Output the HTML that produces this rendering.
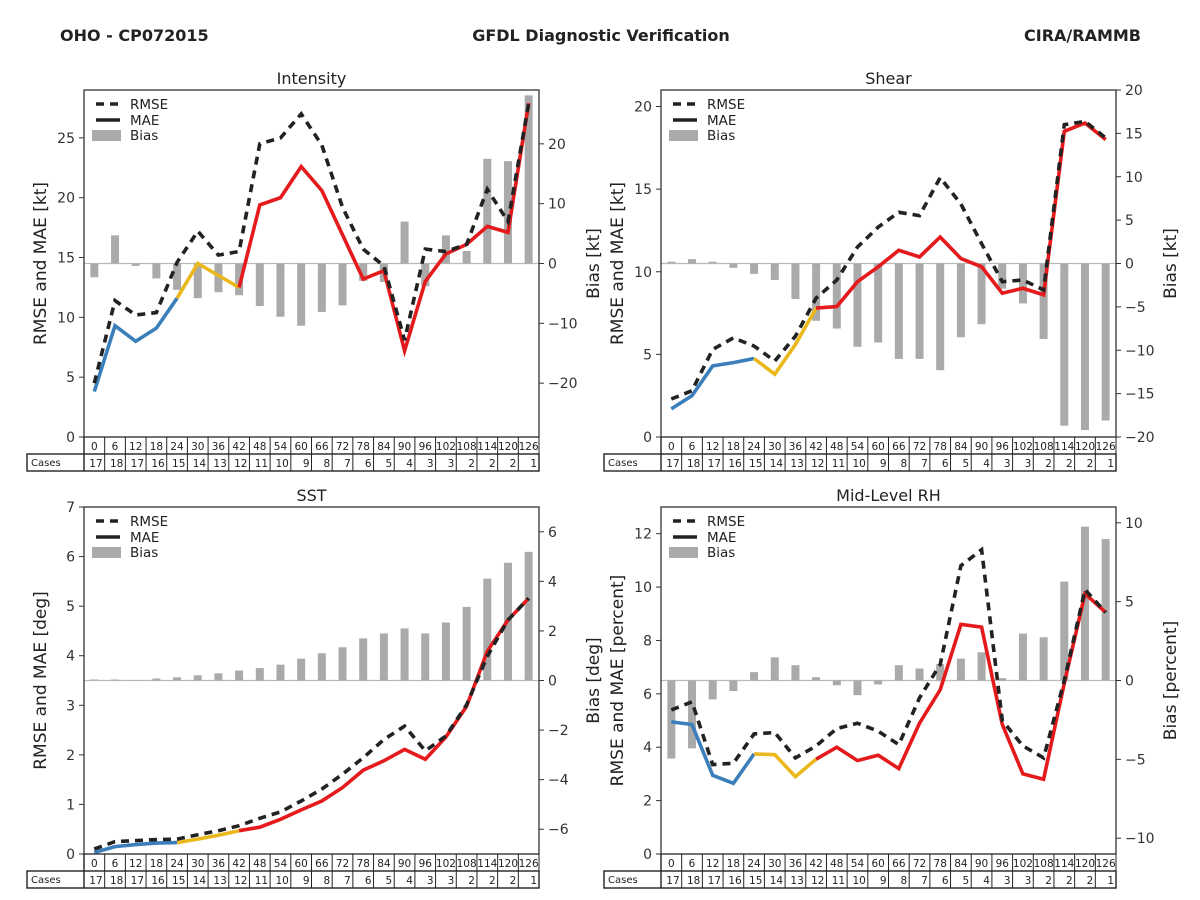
<!DOCTYPE html>
<html><head><meta charset="utf-8">
<style>
html,body{margin:0;padding:0;background:#fff;}
svg{display:block;font-family:"DejaVu Sans","Liberation Sans",sans-serif;}
</style></head>
<body>
<svg id="chart" width="1200" height="900" viewBox="0 0 1200 900" xmlns="http://www.w3.org/2000/svg">
<text x="60" y="41" font-size="16" font-weight="bold" fill="#222">OHO - CP072015</text>
<text x="601" y="41" font-size="16" font-weight="bold" fill="#222" text-anchor="middle">GFDL Diagnostic Verification</text>
<text x="1141" y="41" font-size="16" font-weight="bold" fill="#222" text-anchor="end">CIRA/RAMMB</text>
</svg>
<script>
const hours = [0,6,12,18,24,30,36,42,48,54,60,66,72,78,84,90,96,102,108,114,120,126];
const cases = [17,18,17,16,15,14,13,12,11,10,9,8,7,6,5,4,3,3,2,2,2,1];

const intRmse = [4.5,11.4,10.2,10.4,14.6,17.2,15.2,15.5,24.5,25.0,27.0,24.4,19.2,15.7,14.3,8.1,15.7,15.5,16.1,20.7,18.0,27.9];
const intMae  = [3.8,9.3,8.0,9.1,11.6,14.5,13.5,12.5,19.4,20.0,22.6,20.6,16.9,13.2,13.9,7.2,13.0,15.3,16.1,17.6,17.1,27.9];
const intBias = [-2.3,4.7,-0.4,-2.5,-4.4,-5.8,-4.8,-5.3,-7.1,-8.9,-10.4,-8.1,-7.0,-2.9,-3.1,7.0,-3.8,4.7,2.1,17.5,17.1,28.1];

const shrRmse = [2.3,2.8,5.3,6.0,5.5,4.6,6.1,8.4,9.5,11.5,12.7,13.6,13.4,15.7,14.1,11.7,9.4,9.5,8.9,18.9,19.1,18.1];
const shrMae  = [1.7,2.5,4.3,4.5,4.75,3.8,5.6,7.8,7.9,9.4,10.3,11.3,10.9,12.1,10.8,10.3,8.7,9.0,8.6,18.5,19.0,18.0];
const shrBias = [0.2,0.5,0.2,-0.5,-1.2,-1.9,-4.1,-6.6,-7.5,-9.6,-9.1,-11.0,-11.0,-12.3,-8.5,-7.0,-2.9,-4.6,-8.7,-18.7,-19.2,-18.1];

const sstRmse = [0.1,0.25,0.27,0.29,0.3,0.39,0.47,0.57,0.72,0.85,1.07,1.31,1.61,1.94,2.31,2.58,2.08,2.38,3.01,3.99,4.72,5.16];
const sstMae  = [0.03,0.15,0.19,0.22,0.23,0.3,0.38,0.47,0.54,0.7,0.89,1.07,1.34,1.69,1.88,2.11,1.91,2.36,2.98,4.09,4.72,5.16];
const sstBias = [0.04,0.04,0.01,0.08,0.13,0.21,0.29,0.4,0.5,0.64,0.88,1.1,1.34,1.7,1.9,2.1,1.9,2.34,2.97,4.11,4.75,5.19];

const rhRmse = [5.4,5.7,3.35,3.4,4.5,4.55,3.6,4.05,4.7,4.9,4.6,4.1,5.85,7.1,10.8,11.4,5.0,4.05,3.6,6.5,9.9,9.05];
const rhMae  = [4.95,4.85,2.95,2.65,3.75,3.72,2.9,3.55,4.0,3.5,3.7,3.2,4.9,6.15,8.6,8.5,4.85,3.0,2.8,6.4,9.75,9.05];
const rhBias = [-4.95,-4.3,-1.2,-0.67,0.53,1.47,0.97,0.21,-0.3,-0.93,-0.25,0.97,0.76,1.05,1.39,1.79,0.15,2.97,2.74,6.27,9.75,8.97];

const intLeftTicks = [0,5,10,15,20,25];
const intRightTicks = [-20,-10,0,10,20];
const shrLeftTicks = [0,5,10,15,20];
const shrRightTicks = [-20,-15,-10,-5,0,5,10,15,20];
const sstLeftTicks = [0,1,2,3,4,5,6,7];
const sstRightTicks = [-6,-4,-2,0,2,4,6];
const rhLeftTicks = [0,2,4,6,8,10,12];
const rhRightTicks = [-10,-5,0,5,10];

const NS = "http://www.w3.org/2000/svg";
const svg = document.getElementById('chart');
function mk(tag, attrs, parent, text){
  const e = document.createElementNS(NS, tag);
  for (const k in attrs) e.setAttribute(k, attrs[k]);
  if (text !== undefined) e.textContent = text;
  (parent || svg).appendChild(e);
  return e;
}
function fmt(v){ return v < 0 ? '\u2212' + Math.abs(v) : String(v); }

function panel(cfg){
  const L = cfg.L, R = cfg.R, T = cfg.T, B = cfg.B;
  const g = mk('g', {});
  
  
  const cw = (R - L) / hours.length;
  const xs = i => L + cw * (i + 0.5);
  const yl = v => B - (v - cfg.lmin) / (cfg.lmax - cfg.lmin) * (B - T);
  const yr = v => B - (v - cfg.rmin) / (cfg.rmax - cfg.rmin) * (B - T);

  const title = mk('text', {x:(L+R)/2, y:T-6, 'font-size':16, 'text-anchor':'middle', fill:'#222'}, g, cfg.title);
  
  

  // zero line
  const zl = mk('line', {x1:L, x2:R, y1:yr(0), y2:yr(0), stroke:'#bbb', 'stroke-width':1.2}, g);
  
  

  // bars
  cfg.bias.forEach((v, i) => {
    const y0 = yr(0), y1 = yr(v);
    const r = mk('rect', {x:xs(i)-4, y:Math.min(y0,y1), width:8, height:Math.max(0.5,Math.abs(y1-y0)), fill:'#aaa'}, g);
    
    
  });

  // MAE segments
  const segs = [[0,4,'#3a7fba'],[4,7,'#ebb81c'],[7,hours.length-1,'#e41a1c']];
  segs.forEach(s => {
    let d = '';
    for (let i = s[0]; i <= s[1]; i++) d += (i===s[0]?'M':'L') + xs(i).toFixed(1) + ',' + yl(cfg.mae[i]).toFixed(1);
    const p = mk('path', {d:d, fill:'none', stroke:s[2], 'stroke-width':3.6, 'stroke-linejoin':'miter'}, g);
    
    
  });
  // RMSE
  let d = '';
  cfg.rmse.forEach((v,i) => { d += (i?'L':'M') + xs(i).toFixed(1) + ',' + yl(v).toFixed(1); });
  const rp = mk('path', {d:d, fill:'none', stroke:'#222', 'stroke-width':3.6, 'stroke-dasharray':'8,6'}, g);
  
  

  // frame
  const fr = mk('rect', {x:L, y:T, width:R-L, height:B-T, fill:'none', stroke:'#333', 'stroke-width':1.3}, g);
  
  

  // left ticks
  cfg.lticks.forEach(v => {
    mk('line', {x1:L-5, x2:L, y1:yl(v), y2:yl(v), stroke:'#333', 'stroke-width':1}, g);
    const t = mk('text', {x:L-9, y:yl(v)+5, 'font-size':14, 'text-anchor':'end', fill:'#333'}, g, fmt(v));
    
    
  });
  cfg.rticks.forEach(v => {
    mk('line', {x1:R, x2:R+5, y1:yr(v), y2:yr(v), stroke:'#333', 'stroke-width':1}, g);
    const t = mk('text', {x:R+9, y:yr(v)+5, 'font-size':14, 'text-anchor':'start', fill:'#333'}, g, fmt(v));
    
    
  });
  const cy = (T+B)/2;
  const la = mk('text', {x:0, y:0, transform:'translate('+(L-38)+','+cy+') rotate(-90)', 'font-size':17, 'text-anchor':'middle', fill:'#222'}, g, cfg.ylab);
  
  
  const ra = mk('text', {x:0, y:0, transform:'translate('+(R+60)+','+cy+') rotate(-90)', 'font-size':17, 'text-anchor':'middle', fill:'#222'}, g, cfg.rlab);
  
  

  // legend
  const lx = L + 12, ly = T + 14;
  const lg = mk('g', {}, g);
  
  
  mk('line', {x1:lx, x2:lx+24, y1:ly, y2:ly, stroke:'#222', 'stroke-width':3.6, 'stroke-dasharray':'8,6'}, lg);
  mk('text', {x:lx+34, y:ly+5, 'font-size':13.5, fill:'#222'}, lg, 'RMSE');
  mk('line', {x1:lx, x2:lx+24, y1:ly+16, y2:ly+16, stroke:'#222', 'stroke-width':3.6}, lg);
  mk('text', {x:lx+34, y:ly+21, 'font-size':13.5, fill:'#222'}, lg, 'MAE');
  mk('rect', {x:lx-4, y:ly+26, width:29, height:11, fill:'#aaa'}, lg);
  mk('text', {x:lx+34, y:ly+36, 'font-size':13.5, fill:'#222'}, lg, 'Bias');

  // table
  const tb = mk('g', {}, g);
  
  
  const r1 = B, r2 = B + 17, r3 = B + 34;
  mk('rect', {x:L, y:r1, width:R-L, height:17, fill:'none', stroke:'#222', 'stroke-width':1}, tb);
  mk('rect', {x:L-57, y:r2, width:R-L+57, height:17, fill:'none', stroke:'#222', 'stroke-width':1.4}, tb);
  mk('line', {x1:L, x2:L, y1:r1, y2:r3, stroke:'#222', 'stroke-width':1.4}, tb);
  hours.forEach((h,i) => {
    const cx = L + cw*i;
    if (i>0) mk('line', {x1:cx, x2:cx, y1:r1, y2:r3, stroke:'#222', 'stroke-width':1}, tb);
    mk('text', {x:cx+cw/2, y:r1+13, 'font-size':10.5, 'text-anchor':'middle', fill:'#222'}, tb, String(h));
    mk('text', {x:cx+cw-2, y:r2+13, 'font-size':10.5, 'text-anchor':'end', fill:'#222'}, tb, String(cases[i]));
  });
  mk('text', {x:L-53, y:r2+12, 'font-size':10, fill:'#222'}, tb, 'Cases');
}

panel({key:'intensity', title:'Intensity', L:84, R:539, T:90, B:437, lmin:0, lmax:29, rmin:-29, rmax:29,
  rmse:intRmse, mae:intMae, bias:intBias, lticks:intLeftTicks, rticks:intRightTicks, ylab:'RMSE and MAE [kt]', rlab:'Bias [kt]'});
panel({key:'shear', title:'Shear', L:661, R:1116, T:90, B:437, lmin:0, lmax:21, rmin:-20, rmax:20,
  rmse:shrRmse, mae:shrMae, bias:shrBias, lticks:shrLeftTicks, rticks:shrRightTicks, ylab:'RMSE and MAE [kt]', rlab:'Bias [kt]'});
panel({key:'sst', title:'SST', L:84, R:539, T:507, B:854, lmin:0, lmax:7, rmin:-7, rmax:7,
  rmse:sstRmse, mae:sstMae, bias:sstBias, lticks:sstLeftTicks, rticks:sstRightTicks, ylab:'RMSE and MAE [deg]', rlab:'Bias [deg]'});
panel({key:'rh', title:'Mid-Level RH', L:661, R:1116, T:507, B:854, lmin:0, lmax:13, rmin:-11, rmax:11,
  rmse:rhRmse, mae:rhMae, bias:rhBias, lticks:rhLeftTicks, rticks:rhRightTicks, ylab:'RMSE and MAE [percent]', rlab:'Bias [percent]'});
</script>
</body></html>
